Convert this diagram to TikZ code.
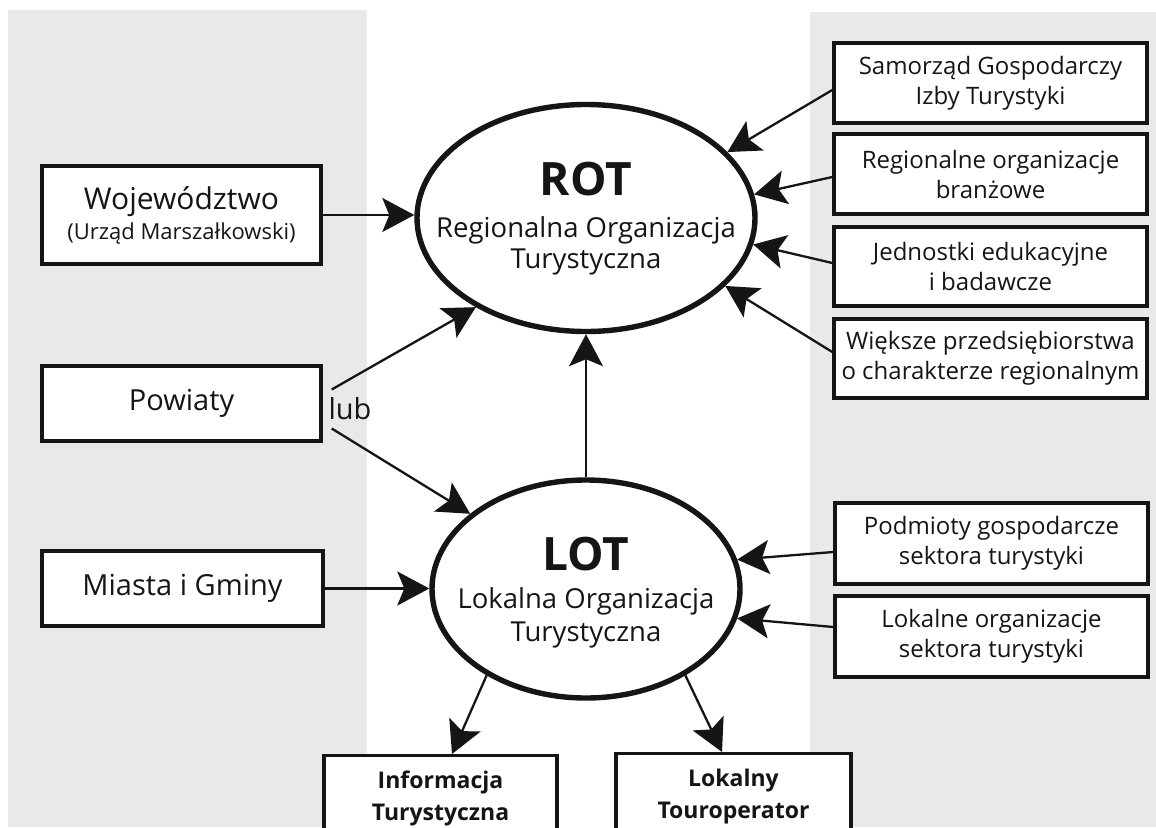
\documentclass[tikz,border=0pt]{standalone}
\usepackage{fontspec}
\setmainfont{Open Sans}
\usetikzlibrary{arrows.meta,shapes.geometric,calc}
\definecolor{panelgray}{HTML}{E9E9E9}
\definecolor{ink}{HTML}{151515}

\begin{document}
\begin{tikzpicture}[x=1pt,y=-1pt,
  box/.style={draw=ink, line width=3.4pt, fill=white, inner sep=0pt, align=center, text=ink},
  leftbox/.style={box, minimum width=279pt, minimum height=75pt, font=\fontsize{29}{34}\selectfont},
  rightbox/.style={box, minimum width=313pt, minimum height=80pt, font=\fontsize{24}{30}\selectfont},
  bottombox/.style={box, anchor=north, minimum height=86pt, font=\fontsize{23}{32}\selectfont\bfseries},
  orgellipse/.style={draw=ink, ellipse, line width=5.4pt, fill=white, inner sep=0pt},
  lbl/.style={anchor=base, text=ink, inner sep=0pt},
  titlefont/.style={font=\fontsize{46}{46}\selectfont\bfseries},
  subfont/.style={font=\fontsize{27.5}{32}\selectfont},
  arr/.style={draw=ink, line width=2.3pt, -{Stealth[length=32pt,width=34pt,inset=7pt]}},
]
% canvas and the two grey side panels
\clip (0,0) rectangle (1156,827);
\fill[white] (0,0) rectangle (1156,827);
\fill[panelgray] (8,10) rectangle (367,827);
\fill[panelgray] (810,12) rectangle (1156,827);

% central organisations
\node[orgellipse, minimum width=338pt, minimum height=227pt] (rot) at (586,218) {};
\node[lbl, titlefont] (rotTitle) at (586,195) {ROT};
\node[lbl, subfont] (rotLineA) at (586,237) {Regionalna Organizacja};
\node[lbl, subfont] (rotLineB) at (586,268) {Turystyczna};

\node[orgellipse, minimum width=308pt, minimum height=218pt] (lot) at (586,589) {};
\node[lbl, titlefont] (lotTitle) at (586,570) {LOT};
\node[lbl, subfont] (lotLineA) at (586,608) {Lokalna Organizacja};
\node[lbl, subfont] (lotLineB) at (586,641) {Turystyczna};

% public administration (left)
\node[leftbox, minimum height=98pt, font=\fontsize{22}{30}\selectfont] (woj) at (181.5,215)
  {{\fontsize{30}{30}\selectfont Województwo}\\(Urząd Marszałkowski)};
\node[leftbox] (pow) at (181.5,403.5) {Powiaty};
\node[leftbox, minimum width=281pt] (mia) at (182.5,588.5) {Miasta i Gminy};
\node[lbl, font=\fontsize{29}{34}\selectfont] (lub) at (350,419) {lub};

% partners (right)
\node[rightbox] (sam) at (990.5,83) {Samorząd Gospodarczy\\Izby Turystyki};
\node[rightbox] (reg) at (990.5,174) {Regionalne organizacje\\branżowe};
\node[rightbox, minimum height=79pt] (jed) at (990.5,266.5) {Jednostki edukacyjne\\i badawcze};
\node[rightbox, minimum height=79pt] (wie) at (990.5,358.5) {Większe przedsiębiorstwa\\o charakterze regionalnym};
\node[rightbox, minimum height=81pt] (pod) at (991.5,543.5) {Podmioty gospodarcze\\sektora turystyki};
\node[rightbox, minimum height=81pt] (lok) at (991.5,636.5) {Lokalne organizacje\\sektora turystyki};

% products of LOT (bottom)
\node[bottombox, minimum width=233pt] (inf) at (440.5,754) {Informacja\\Turystyczna};
\node[bottombox, minimum width=235pt] (lkt) at (733.5,752) {Lokalny\\Touroperator};

% connectors
\draw[arr] (woj.east) -- (woj.east -| rot.west);
\draw[arr] ($(pow.east)+(9,-14)$) -- (rot.219);
\draw[arr] ($(pow.east)+(9,25)$) -- (lot.147);
\draw[arr] (mia.east) -- (mia.east -| lot.west);
\draw[arr] (lot.north) -- (rot.south);

\draw[arr] ($(sam.west)+(0,7)$) -- (rot.25);
\draw[arr] ($(reg.west)+(0,3)$) -- (rot.8);
\draw[arr] ($(jed.west)+(0,-3.5)$) -- (rot.-9);
\draw[arr] ($(wie.west)+(0,-6.5)$) -- (rot.-26);
\draw[arr] ($(pod.west)+(0,8.5)$) -- (lot.11);
\draw[arr] ($(lok.west)+(0,-9.5)$) -- (lot.-11);

\draw[arr] (lot.221) -- ($(inf.north)+(11.5,0)$);
\draw[arr] (lot.-41) -- ($(lkt.north)+(-11.5,0)$);
\end{tikzpicture}
\end{document}
